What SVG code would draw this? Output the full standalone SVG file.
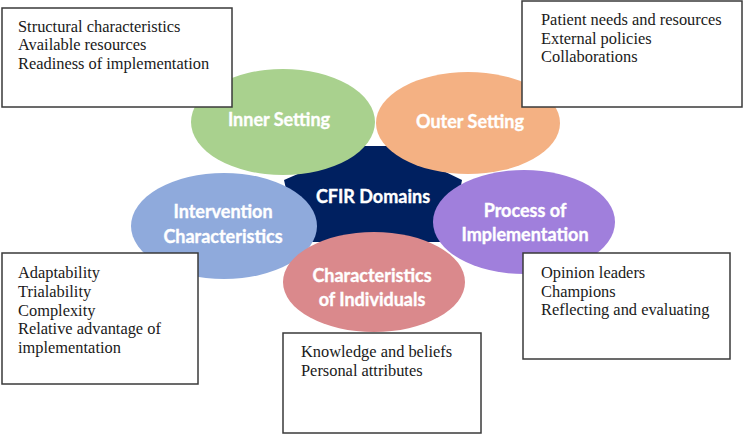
<svg xmlns="http://www.w3.org/2000/svg" width="744" height="437" viewBox="0 0 744 437">
<style>
.box{fill:#fff;stroke:#3a3a3a;stroke-width:1.5}
.bt{font-family:"Liberation Serif",serif;font-size:16.4px;fill:#1a1a1a}
.et{font-family:Lato,"Open Sans",sans-serif;font-weight:bold;font-size:18px;fill:#fff;stroke:#fff;stroke-width:0.35;text-anchor:middle}
</style>
<rect width="744" height="437" fill="#fff"/>
<g id="center">
<polygon points="362,146 392,146 462,180 450,242 298,242 284,180" fill="#002060"/>
<text class="et" x="373" y="203">CFIR Domains</text>
</g>
<g id="inner-setting">
<ellipse cx="283" cy="122" rx="92" ry="53" fill="#a9d18e"/>
<text class="et" x="279" y="126">Inner Setting</text>
</g>
<g id="outer-setting">
<ellipse cx="468" cy="123" rx="92" ry="51" fill="#f4b183"/>
<text class="et" x="470" y="128">Outer Setting</text>
</g>
<g id="intervention">
<ellipse cx="224" cy="226" rx="93" ry="53" fill="#8faadc"/>
<text class="et" x="223" y="218">Intervention</text>
<text class="et" x="223" y="243">Characteristics</text>
</g>
<g id="process">
<ellipse cx="524" cy="222" rx="91" ry="52" fill="#a07fdc"/>
<text class="et" x="525" y="217">Process of</text>
<text class="et" x="525" y="241">Implementation</text>
</g>
<g id="individuals">
<ellipse cx="374" cy="282" rx="91" ry="50" fill="#da898c"/>
<text class="et" x="372" y="282">Characteristics</text>
<text class="et" x="372" y="306">of Individuals</text>
</g>
<g id="box-inner">
<rect class="box" x="2" y="8" width="230" height="99"/>
<text class="bt" x="18" y="32">Structural characteristics</text>
<text class="bt" x="18" y="50">Available resources</text>
<text class="bt" x="18" y="69">Readiness of implementation</text>
</g>
<g id="box-outer">
<rect class="box" x="522" y="1" width="220" height="106"/>
<text class="bt" x="541" y="25">Patient needs and resources</text>
<text class="bt" x="541" y="44">External policies</text>
<text class="bt" x="541" y="62">Collaborations</text>
</g>
<g id="box-intervention">
<rect class="box" x="2" y="253" width="196" height="131"/>
<text class="bt" x="18" y="278">Adaptability</text>
<text class="bt" x="18" y="297">Trialability</text>
<text class="bt" x="18" y="316">Complexity</text>
<text class="bt" x="18" y="334">Relative advantage of</text>
<text class="bt" x="18" y="353">implementation</text>
</g>
<g id="box-process">
<rect class="box" x="523" y="253" width="207" height="106"/>
<text class="bt" x="541" y="278">Opinion leaders</text>
<text class="bt" x="541" y="297">Champions</text>
<text class="bt" x="541" y="315">Reflecting and evaluating</text>
</g>
<g id="box-individuals">
<rect class="box" x="283" y="333" width="198" height="100"/>
<text class="bt" x="301" y="357">Knowledge and beliefs</text>
<text class="bt" x="301" y="376">Personal attributes</text>
</g>
<g id="connectors"/>
</svg>
